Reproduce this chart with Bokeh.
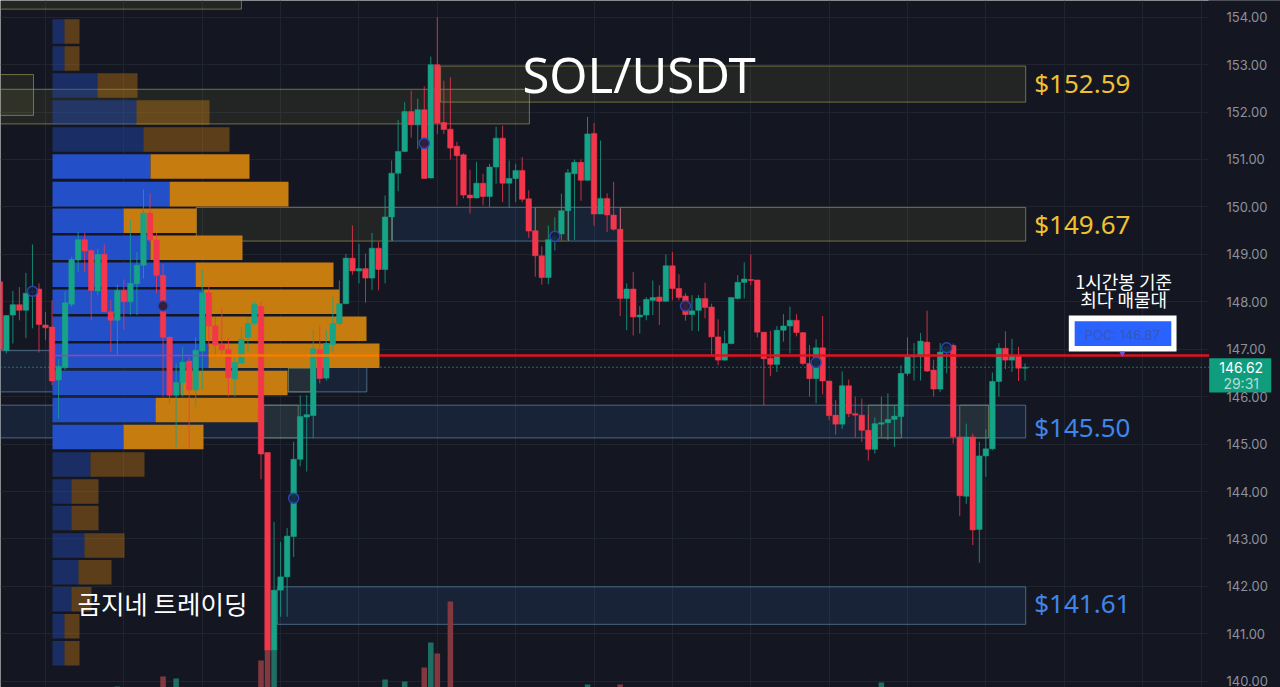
from bokeh.core.properties import value
from bokeh.embed import file_html
from bokeh.models import FixedTicker, Range1d
from bokeh.plotting import figure
from bokeh.resources import INLINE

# hourly candles
opens = [148.42,146.97,147.72,147.94,147.82,148.20,148.27,147.51,147.47,146.35,
         146.61,147.95,148.88,149.31,149.08,148.23,149.00,147.79,147.61,148.24,
         148.00,148.38,148.77,149.87,149.30,148.56,147.25,146.03,146.30,146.75,
         146.14,146.96,148.19,147.49,147.10,146.99,146.38,146.71,147.25,147.55,
         147.90,144.82,140.65,141.92,142.20,143.05,144.68,145.57,145.60,146.99,
         146.39,147.10,147.54,147.96,148.92,148.65,148.70,148.50,149.13,148.68,
         149.79,150.71,151.17,152.01,151.73,152.05,150.61,153.00,151.78,151.64,
         151.28,151.10,150.25,150.19,150.50,150.22,150.84,151.45,150.50,150.60,
         150.77,150.17,149.50,148.97,148.51,149.31,149.43,149.92,150.70,150.94,
         150.56,151.55,149.85,150.18,149.83,149.53,148.07,148.27,147.68,147.72,
         148.03,148.10,148.01,148.76,148.28,148.12,147.73,147.82,148.07,147.89,
         147.26,146.77,147.12,148.07,148.41,148.47,148.46,147.36,146.81,146.68,
         147.40,147.49,147.61,147.35,146.70,146.38,147.03,146.33,145.61,145.42,
         146.23,145.64,145.61,145.29,144.89,145.42,145.45,145.52,145.58,146.49,
         146.84,146.84,147.15,146.56,146.16,146.93,147.08,145.15,143.90,145.15,
         143.20,144.75,144.90,146.32,147.02,146.77,146.87,146.60]
closes = [146.99,147.71,147.94,147.82,148.18,148.22,147.52,147.45,146.33,146.64,
          147.98,148.89,149.31,149.07,148.24,149.00,147.79,147.61,148.24,148.00,
          148.39,148.77,149.87,149.30,148.56,147.25,146.03,146.30,146.73,146.14,
          146.98,148.19,147.49,147.09,146.99,146.40,146.72,147.21,147.54,147.94,
          144.79,140.65,141.92,142.20,143.06,144.68,145.58,145.62,147.01,146.38,
          147.12,147.54,147.96,148.92,148.65,148.70,148.50,149.13,148.68,149.79,
          150.71,151.17,152.01,151.73,152.05,150.60,153.00,151.77,151.63,151.24,
          151.08,150.25,150.19,150.50,150.22,150.84,151.45,150.50,150.60,150.77,
          150.16,149.49,148.97,148.51,149.31,149.38,149.92,150.72,150.94,150.56,
          151.54,149.85,150.18,149.83,149.53,148.07,148.27,147.68,147.72,148.05,
          148.09,148.01,148.76,148.28,148.09,147.73,147.81,148.07,147.88,147.26,
          146.77,147.12,148.09,148.41,148.48,148.45,147.36,146.80,146.68,147.40,
          147.49,147.61,147.35,146.70,146.38,147.03,146.33,145.60,145.42,146.23,
          145.64,145.61,145.29,144.89,145.43,145.45,145.52,145.59,146.49,146.84,
          146.87,147.17,146.54,146.16,146.94,147.05,145.15,143.91,145.15,143.19,
          144.75,144.90,146.32,147.02,146.77,146.87,146.60,146.62]
highs = [148.42,147.72,148.23,148.31,148.61,149.21,148.39,147.79,148.03,146.79,
         148.23,148.95,149.47,149.45,149.10,149.12,149.21,148.03,148.36,148.47,
         149.72,149.05,150.37,150.28,149.45,148.80,147.27,146.70,147.05,146.84,
         147.25,148.67,148.33,147.68,147.87,147.23,146.84,147.47,147.68,148.00,
         148.00,144.82,143.36,142.94,143.23,145.05,146.03,146.03,147.41,147.50,
         147.41,148.10,148.45,149.01,149.61,149.22,149.02,149.45,149.26,150.24,
         150.98,151.83,152.21,152.45,152.28,152.54,153.17,154.00,152.66,152.73,
         151.37,151.13,150.78,150.95,150.70,150.91,151.69,151.71,150.98,150.91,
         151.05,150.35,149.50,149.17,149.61,149.78,150.28,150.80,151.00,151.00,
         151.90,151.77,151.40,150.29,150.53,149.97,148.39,148.63,147.91,148.10,
         148.45,148.35,149.00,149.05,148.58,148.18,148.14,148.14,148.40,147.96,
         147.63,147.39,148.10,148.56,148.83,149.00,148.46,147.36,147.39,147.49,
         147.74,147.90,147.74,147.36,147.09,147.21,147.70,146.33,145.93,146.53,
         146.36,146.00,145.96,145.63,145.56,146.00,146.07,145.82,146.66,147.25,
         147.13,147.34,147.81,146.78,147.13,147.05,147.12,145.15,145.43,145.22,
         145.05,145.31,146.51,147.13,147.38,147.22,147.05,146.70]
lows = [146.95,146.91,147.12,147.61,147.23,147.44,146.93,147.19,146.24,145.54,
        146.56,147.89,148.63,148.63,147.61,148.14,147.79,146.94,146.87,147.41,
        147.72,147.72,148.49,149.25,148.18,146.00,145.85,144.94,146.00,144.93,
        145.78,146.14,147.05,146.84,146.90,146.00,146.00,146.68,146.94,147.50,
        144.26,140.65,140.45,141.36,141.36,142.62,144.53,144.42,145.12,146.28,
        146.34,146.94,147.50,147.95,148.57,148.39,147.98,148.25,148.24,148.39,
        149.30,150.33,151.15,151.46,151.22,150.60,150.60,151.54,151.54,151.00,
        150.03,150.18,149.86,150.18,150.03,150.00,150.49,150.10,149.98,150.10,
        150.10,149.35,148.53,148.36,148.37,149.08,149.29,149.30,149.30,150.13,
        150.56,149.60,149.85,149.47,149.50,147.70,147.40,147.29,147.33,147.61,
        147.72,147.51,148.00,148.03,148.03,147.60,147.39,147.38,147.65,146.87,
        146.66,146.76,147.10,148.05,148.07,148.35,147.25,145.82,146.43,146.52,
        147.16,146.91,147.27,146.66,146.00,145.86,146.05,145.50,145.20,145.32,
        145.57,145.14,145.05,144.65,144.80,145.15,145.09,144.94,145.21,146.44,
        146.34,146.34,146.52,146.00,146.10,146.49,145.01,143.48,143.74,142.87,
        142.50,144.31,144.87,146.00,146.58,146.52,146.33,146.34]

# volume at the bottom, only the bars tall enough to be seen
vol_idx = [18, 25, 27, 40, 41, 42, 59, 62, 65, 66, 67, 69, 90, 95, 135]
vol_val = [1, 11, 9, 27, 37, 37, 8, 6, 20, 45, 34, 86, 3, 3, 5]

# volume profile on the left
row_price = [153.70,153.13,152.56,151.99,151.42,150.85,150.27,149.71,149.14,148.57,148.00,147.43,
             146.86,146.29,145.72,145.15,144.57,144.00,143.44,142.86,142.30,141.73,141.16,140.59]
row_buy = [12,12,45,84,91,98,117,71,98,143,151,153,156,128,103,71,38,19,19,32,26,19,12,12]
row_sell = [15,15,40,73,86,99,119,73,92,138,136,161,171,107,104,80,54,27,27,40,33,20,15,15]
row_alpha = [0.4]*5 + [1.0]*11 + [0.4]*8

# support and resistance zones: left, right, top, bottom
yellow_left = [-1, -1, -1, 67.5, 30.1, 82.0, 95.05, 40.4, 133.0, 147.0, 44.2]
yellow_right = [37.0, 5.16, 81.1, 157.1, 60.1, 87.1, 157.1, 45.7, 138.1, 151.4, 47.6]
yellow_top = [154.5, 152.79, 152.48, 152.97, 149.99, 149.99, 149.99, 145.82, 145.82, 145.82, 146.60]
yellow_bottom = [154.17, 151.93, 151.75, 152.21, 149.28, 149.28, 149.28, 145.13, 145.13, 145.13, 146.10]
blue_left = [60.1, 87.1, -1, -1, 42.5]
blue_right = [82.0, 95.05, 56.2, 157.1, 157.1]
blue_top = [149.99, 149.99, 146.97, 145.82, 141.99]
blue_bottom = [149.28, 149.28, 146.10, 145.13, 141.20]

marker_idx = [5, 25, 45, 65, 85, 105, 125, 145]
marker_price = [148.22, 147.91, 143.86, 151.34, 149.38, 147.91, 146.72, 147.03]

price_ticks = [140, 141, 142, 143, 144, 145, 146, 147, 148, 149, 150, 151, 152, 153, 154]
time_ticks = [7, 19, 31, 43, 55, 67, 79, 91, 103, 115, 127, 139, 151, 163, 175, 184]

level_labels = ["$152.59", "$149.67", "$145.50", "$141.61"]
level_y = [152.62, 149.63, 145.37, 141.64]
level_colors = ["#f0c030", "#f0c030", "#3f86ea", "#3f86ea"]

BG = "#141722"
GREEN = "#16a388"
RED = "#f4364c"

p = figure(frame_width=1280, frame_height=687, x_range=Range1d(0.107, 196.12), y_range=Range1d(139.868, 154.352),
           output_backend="svg", toolbar_location=None, y_axis_location="right",
           background_fill_color=BG, border_fill_color=BG, outline_line_color=None,
           min_border_left=0, min_border_top=0, min_border_bottom=0, min_border_right=0)

p.extra_x_ranges = {"profile": Range1d(-52, 1228)}
p.extra_y_ranges = {"volume": Range1d(0, 687)}

p.xaxis.visible = False
p.xgrid.ticker = FixedTicker(ticks=time_ticks)
p.ygrid.ticker = FixedTicker(ticks=price_ticks)
p.xgrid.grid_line_color = "#20242f"
p.ygrid.grid_line_color = "#20242f"

# labels drawn back over the frame so that the frame can run to the window edge
p.yaxis.ticker = FixedTicker(ticks=price_ticks)
p.yaxis.major_label_overrides = {t: "%.2f" % t for t in price_ticks}
p.yaxis.axis_line_color = None
p.yaxis.major_tick_line_color = None
p.yaxis.minor_tick_line_color = None
p.yaxis.major_label_standoff = -60
p.yaxis.major_label_text_font = "Inter"
p.yaxis.major_label_text_font_size = "13px"
p.yaxis.major_label_text_color = "#8d919c"

# price scale strip, hides the grid on the right
p.quad(left=[185.1], right=[197], top=[155], bottom=[139], fill_color=BG, line_color=None)

# zones
p.quad(left=yellow_left, right=yellow_right, top=yellow_top, bottom=yellow_bottom,
       fill_color="#b8c050", fill_alpha=0.09, line_color="#a8a854", line_alpha=0.6, line_width=1)
p.quad(left=blue_left, right=blue_right, top=blue_top, bottom=blue_bottom,
       fill_color="#2f6fb8", fill_alpha=0.14, line_color="#5f86a8", line_alpha=0.7, line_width=1)

# current price line
p.segment(x0=[0.1], x1=[185.2], y0=[146.62], y1=[146.62], line_color="#3fb8a0", line_dash="1 3", line_width=1)

# profile
row_end = [b + s for b, s in zip(row_buy, row_sell)]
p.hbar(y=row_price, left=0, right=row_buy, height=0.517, x_range_name="profile",
       fill_color="#2350c8", fill_alpha=row_alpha, line_color=None)
p.hbar(y=row_price, left=row_buy, right=row_end, height=0.517, x_range_name="profile",
       fill_color="#c77c10", fill_alpha=row_alpha, line_color=None)

# candles
idx = list(range(len(opens)))
colors = [GREEN if c >= o else RED for o, c in zip(opens, closes)]
body_top = [max(o, c) for o, c in zip(opens, closes)]
body_bottom = [min(o, c) for o, c in zip(opens, closes)]
p.segment(x0=idx, x1=idx, y0=lows, y1=highs, line_color=colors, line_width=1, line_alpha=0.8)
p.vbar(x=idx, top=body_top, bottom=body_bottom, width=0.85, fill_color=colors, line_color=colors, line_width=0.5)

# volume
vol_colors = ["#1f6e64" if closes[i] >= opens[i] else "#83383f" for i in vol_idx]
p.vbar(x=vol_idx, top=vol_val, bottom=0, width=0.85, y_range_name="volume", fill_color=vol_colors, line_color=None)

# point of control
p.segment(x0=[8.07, 31.96, 58.1], x1=[31.96, 58.1, 185.2], y0=[146.87]*3, y1=[146.87]*3,
          line_color=["#9a45a8", "#f57c00", "#e3121f"], line_width=[1.5, 2.5, 2.5])

p.scatter(x=marker_idx, y=marker_price, size=10, marker="circle", fill_color="#151a38", fill_alpha=0.85,
          line_color="#2a45b0", line_width=1.5)

p.text(x=[97.9], y=[152.81], text=["SOL/USDT"], text_color="#ffffff", text_font=value("Noto Sans"),
       text_font_size="49px", text_align="center", text_baseline="middle")
p.text(x=[158.4]*4, y=level_y, text=level_labels, text_color=level_colors, text_font=value("Noto Sans"),
       text_font_size="26px", text_align="left", text_baseline="middle")
p.text(x=[172.1, 172.1], y=[148.43, 148.05], text=["1시간봉 기준", "최다 매물대"], text_color="#ffffff",
       text_font=value("Noto Sans CJK KR"), text_font_size="18px", text_align="center", text_baseline="middle")
p.text(x=[24.9], y=[141.66], text=["곰지네 트레이딩"], text_color="#ffffff",
       text_font=value("Noto Sans CJK KR"), text_font_size="25.5px", text_align="center", text_baseline="middle")

# POC tag
p.quad(left=[163.7], right=[180.2], top=[147.71], bottom=[146.95], fill_color="#ffffff", line_color=None)
p.quad(left=[164.6], right=[179.4], top=[147.59], bottom=[147.07], fill_color="#2962ff", line_color=None)
p.scatter(x=[171.9], y=[146.91], marker="inverted_triangle", size=6, fill_color="#6a5acd", line_color=None)
p.text(x=[171.9], y=[147.31], text=["POC: 146.87"], text_color="#3a55b8", text_font=value("Inter"),
       text_font_size="13px", text_align="center", text_baseline="middle")

# last price tag over the scale
p.quad(left=[185.2], right=[194.7], top=[146.81], bottom=[146.09], fill_color="#0f9d7e", line_color=None)
p.text(x=[190.1, 190.1], y=[146.62, 146.28], text=["146.62", "29:31"], text_color=["#ffffff", "#b5dcd0"],
       text_font=value("Inter"), text_font_size="14px", text_align="center", text_baseline="middle")

open("out.html", "w").write(file_html(p, INLINE))
